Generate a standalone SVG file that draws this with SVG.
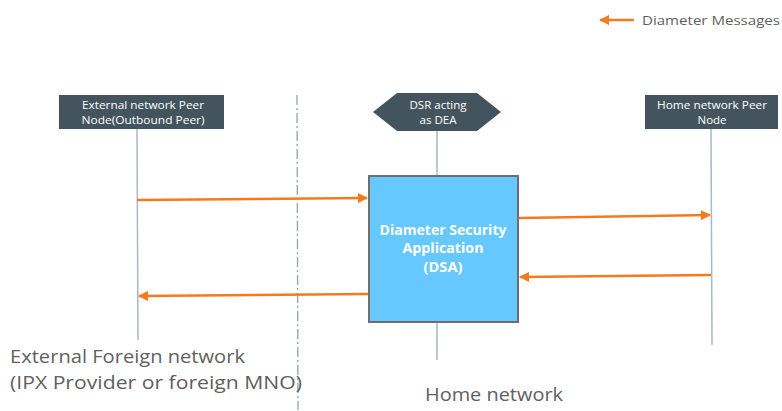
<svg xmlns="http://www.w3.org/2000/svg" width="782" height="411" viewBox="0 0 782 411">
<style>
.node{fill:#44545E}
.nt{font-family:"Open Sans","Liberation Sans",Arial,sans-serif;font-size:10.5px;fill:#FFFFFF;text-anchor:middle}
.life{stroke:#A9B8C4;stroke-width:1.5;fill:none}
.msg{stroke:#F47A20;stroke-width:2.5;fill:none;marker-end:url(#ah)}
.lbl{font-family:"Open Sans","Liberation Sans",Arial,sans-serif;fill:#5F5F5F}
.dsa{font-family:"Open Sans","Liberation Sans",Arial,sans-serif;font-size:13.5px;font-weight:bold;fill:#FFFFFF;text-anchor:middle}
</style>
<defs>
<marker id="ah" viewBox="0 0 10 10" refX="9" refY="5" markerWidth="4" markerHeight="4" orient="auto" markerUnits="strokeWidth">
<path d="M0,0 L10,5 L0,10 z" fill="#F47A20"/>
</marker>
</defs>
<rect width="782" height="411" fill="#FFFFFF"/>
<g id="legend">
<line x1="634" y1="20" x2="600" y2="20" class="msg"/>
<text x="642" y="25" class="lbl" font-size="13.5" textLength="138" lengthAdjust="spacingAndGlyphs">Diameter Messages</text>
</g>
<g id="boundary">
<line x1="297" y1="95" x2="298" y2="410" stroke="#8FA3B1" stroke-width="1.3" stroke-dasharray="10,3,2,3"/>
</g>
<g id="lifelines">
<line x1="137" y1="129" x2="138" y2="340" class="life"/>
<line x1="437" y1="131" x2="437" y2="175" class="life"/>
<line x1="437" y1="322" x2="437" y2="360" class="life"/>
<line x1="711" y1="129" x2="712" y2="345" class="life"/>
</g>
<g id="ext-peer">
<rect x="59" y="95" width="165" height="34" class="node"/>
<text x="143" y="109" class="nt" textLength="122" lengthAdjust="spacingAndGlyphs">External network Peer</text>
<text x="143" y="124" class="nt" textLength="123" lengthAdjust="spacingAndGlyphs">Node(Outbound  Peer)</text>
</g>
<g id="dsr">
<polygon points="373,112 397,93 477,93 501,112 477,131 397,131" class="node"/>
<text x="438" y="109" class="nt" textLength="57" lengthAdjust="spacingAndGlyphs">DSR acting</text>
<text x="438" y="124" class="nt" textLength="37" lengthAdjust="spacingAndGlyphs">as DEA</text>
</g>
<g id="home-peer">
<rect x="645" y="95" width="133" height="34" class="node"/>
<text x="712" y="109" class="nt" textLength="110" lengthAdjust="spacingAndGlyphs">Home network Peer</text>
<text x="712" y="124" class="nt" textLength="29" lengthAdjust="spacingAndGlyphs">Node</text>
</g>
<g id="dsa">
<rect x="369" y="176" width="149" height="146" fill="#66C8FF" stroke="#6E6E6E" stroke-width="2"/>
<text x="443" y="235" class="dsa" textLength="127" lengthAdjust="spacingAndGlyphs">Diameter Security</text>
<text x="443" y="253" class="dsa" textLength="81" lengthAdjust="spacingAndGlyphs">Application</text>
<text x="443" y="272" class="dsa" textLength="39" lengthAdjust="spacingAndGlyphs">(DSA)</text>
</g>
<g id="connectors">
<line x1="137" y1="200" x2="367" y2="198" class="msg"/>
<line x1="519" y1="218" x2="710" y2="215" class="msg"/>
<line x1="711" y1="275" x2="520" y2="277" class="msg"/>
<line x1="368" y1="294" x2="139" y2="296" class="msg"/>
</g>
<g id="labels">
<text x="10" y="363" class="lbl" font-size="19" textLength="235" lengthAdjust="spacingAndGlyphs">External Foreign network</text>
<text x="10" y="389" class="lbl" font-size="19" textLength="292" lengthAdjust="spacingAndGlyphs">(IPX Provider or foreign MNO)</text>
<text x="425" y="401" class="lbl" font-size="19" textLength="138" lengthAdjust="spacingAndGlyphs">Home network</text>
</g>
</svg>
